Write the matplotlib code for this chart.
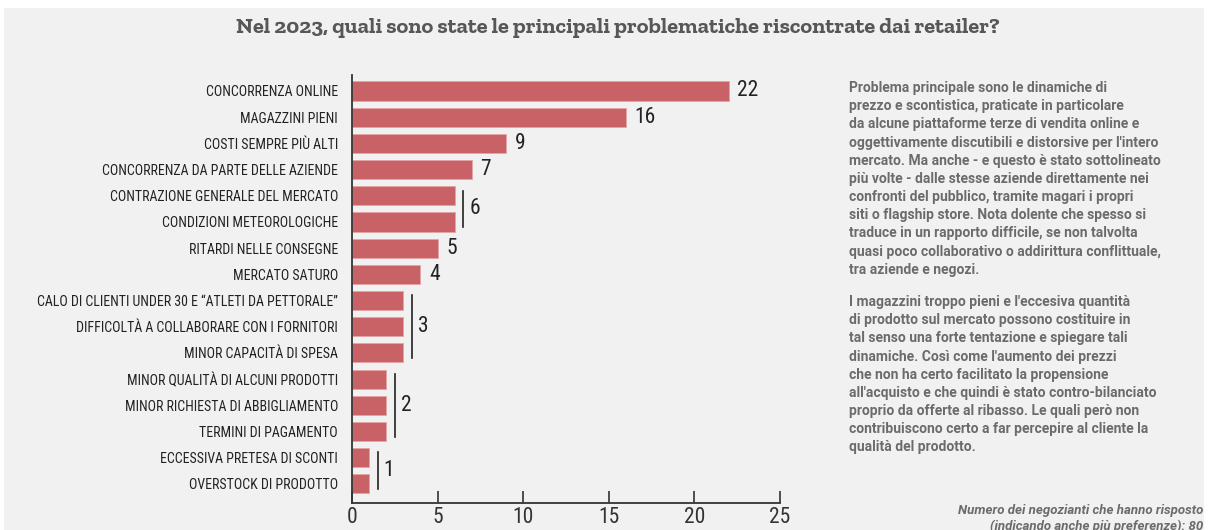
import matplotlib.pyplot as plt
from matplotlib.patches import Rectangle

categories = [
    "CONCORRENZA ONLINE",
    "MAGAZZINI PIENI",
    "COSTI SEMPRE PIÙ ALTI",
    "CONCORRENZA DA PARTE DELLE AZIENDE",
    "CONTRAZIONE GENERALE DEL MERCATO",
    "CONDIZIONI METEOROLOGICHE",
    "RITARDI NELLE CONSEGNE",
    "MERCATO SATURO",
    "CALO DI CLIENTI UNDER 30 E “ATLETI DA PETTORALE”",
    "DIFFICOLTÀ A COLLABORARE CON I FORNITORI",
    "MINOR CAPACITÀ DI SPESA",
    "MINOR QUALITÀ DI ALCUNI PRODOTTI",
    "MINOR RICHIESTA DI ABBIGLIAMENTO",
    "TERMINI DI PAGAMENTO",
    "ECCESSIVA PRETESA DI SCONTI",
    "OVERSTOCK DI PRODOTTO",
]
values = [22, 16, 9, 7, 6, 6, 5, 4, 3, 3, 3, 2, 2, 2, 1, 1]
x_ticks = [0, 5, 10, 15, 20, 25]

title = "Nel 2023, quali sono state le principali problematiche riscontrate dai retailer?"
note_1 = ("Problema principale sono le dinamiche di\n"
          "prezzo e scontistica, praticate in particolare\n"
          "da alcune piattaforme terze di vendita online e\n"
          "oggettivamente discutibili e distorsive per l'intero\n"
          "mercato. Ma anche - e questo è stato sottolineato\n"
          "più volte - dalle stesse aziende direttamente nei\n"
          "confronti del pubblico, tramite magari i propri\n"
          "siti o flagship store. Nota dolente che spesso si\n"
          "traduce in un rapporto difficile, se non talvolta\n"
          "quasi poco collaborativo o addirittura conflittuale,\n"
          "tra aziende e negozi.")
note_2 = ("I magazzini troppo pieni e l'eccesiva quantità\n"
          "di prodotto sul mercato possono costituire in\n"
          "tal senso una forte tentazione e spiegare tali\n"
          "dinamiche. Così come l'aumento dei prezzi\n"
          "che non ha certo facilitato la propensione\n"
          "all'acquisto e che quindi è stato contro-bilanciato\n"
          "proprio da offerte al ribasso. Le quali però non\n"
          "contribuiscono certo a far percepire al cliente la\n"
          "qualità del prodotto.")
footnote = ("Numero dei negozianti che hanno risposto\n"
            "(indicando anche più preferenze): 80")

BG = "#f1f1f1"
BAR = "#c96266"
INK = "#222222"
NARROW = ["Roboto Condensed", "DejaVu Sans"]
TEXT_FONT = ["Roboto", "DejaVu Sans"]
SLAB = ["Zilla Slab", "DejaVu Serif"]

fig = plt.figure(figsize=(12.08, 5.30), dpi=100, facecolor="white")
fig.patches.append(Rectangle((0.003, 0), 0.994, 1 - 8 / 530, transform=fig.transFigure,
                             facecolor=BG, edgecolor="none", zorder=-10))

ax = fig.add_axes([352 / 1208, 27 / 530, 428 / 1208, 428 / 530])
ax.set_facecolor("none")

pos = list(range(len(values)))
ax.barh(pos, values, height=0.73, color=BAR, edgecolor="#e4a4a4", linewidth=0.6)
ax.set_xlim(0, 25)
ax.set_ylim(15.73, -0.61)

ax.set_yticks(pos)
ax.set_yticklabels(categories, family=NARROW, fontsize=10.0, color=INK)
ax.tick_params(axis="y", length=0, pad=10)
ax.set_xticks(x_ticks)
ax.set_xticklabels([str(t) for t in x_ticks], family=NARROW, fontsize=15.5, color="#333333")
ax.tick_params(axis="x", direction="in", length=9, width=1.2, color="#333333", pad=3)

for side in ["top", "right"]:
    ax.spines[side].set_visible(False)
for side in ["left", "bottom"]:
    ax.spines[side].set_color("#333333")
    ax.spines[side].set_linewidth(1.3)

# value next to bars with a unique value
for i in [0, 1, 2, 3, 6, 7]:
    ax.text(values[i] + 0.5, i, str(values[i]), va="center", ha="left",
            family=NARROW, fontsize=15.5, color=INK)

# bracket + one label for bars sharing the same value
groups = [(4, 5), (8, 10), (11, 13), (14, 15)]
for a, b in groups:
    v = values[a]
    ax.plot([v + 0.5, v + 0.5], [a - 0.2, b + 0.2], color=INK, lw=1.2)
    ax.text(v + 0.85, (a + b) / 2, str(v), va="center", ha="left",
            family=NARROW, fontsize=15.5, color=INK)

fig.text(618 / 1208, 1 - 28 / 530, title, ha="center", va="center",
         family=SLAB, fontweight="bold", fontsize=16.1, color="#575757")

fig.text(849 / 1208, 1 - 81 / 530, note_1, ha="left", va="top", family=TEXT_FONT,
         fontweight="bold", fontsize=10, color="#6b6b6b", linespacing=1.38)
fig.text(849 / 1208, 1 - 295 / 530, note_2, ha="left", va="top", family=TEXT_FONT,
         fontweight="bold", fontsize=10, color="#6b6b6b", linespacing=1.38)
fig.text(1203 / 1208, 1 - 504 / 530, footnote, ha="right", va="top", family=TEXT_FONT,
         fontweight="bold", style="italic", fontsize=9.5, color="#6b6b6b", linespacing=1.25,
         multialignment="right")

fig.savefig("out.png", dpi=100, facecolor=fig.get_facecolor())
